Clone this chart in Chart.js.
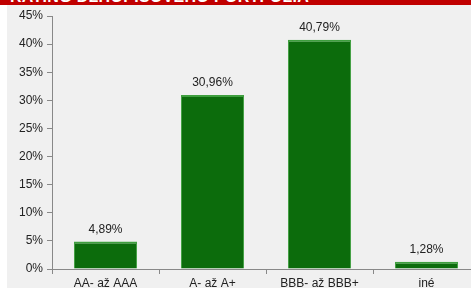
<!DOCTYPE html>
<html><head><meta charset="utf-8">
<script src="https://cdn.jsdelivr.net/npm/chart.js@4"></script>
<style>
html,body{margin:0;padding:0;background:#fff;overflow:hidden;width:471px;height:295px}
#panel{position:absolute;left:7px;top:0;width:464px;height:288px;background:#f0f0f0}
#band{position:absolute;left:0;top:0;width:471px;height:5px;background:#c00000;overflow:hidden}
#band span{position:absolute;left:10px;top:-12px;font:bold 16px "Liberation Sans",Arial,sans-serif;color:#fff;white-space:nowrap;letter-spacing:0.3px}
#wrap{position:absolute;left:0;top:0;width:490px;height:295px}
</style></head>
<body>
<div id="panel"></div>
<div id="wrap"><canvas id="c" width="490" height="295"></canvas></div>
<div id="band"><span>RATING DLHOPISOVÉHO PORTFÓLIA</span></div>
<script>
const categories = ["AA- až AAA", "A- až A+", "BBB- až BBB+", "iné"];
const values = [4.89, 30.96, 40.79, 1.28];
const valueLabels = ["4,89%", "30,96%", "40,79%", "1,28%"];

const labelPlugin = {
  id: 'vlabels',
  afterDatasetsDraw(chart) {
    const ctx = chart.ctx;
    const meta = chart.getDatasetMeta(0);
    ctx.save();
    ctx.font = '12px "Liberation Sans", Arial, sans-serif';
    ctx.fillStyle = '#222';
    ctx.textAlign = 'center';
    ctx.textBaseline = 'middle';
    meta.data.forEach((bar, i) => {
      ctx.fillText(valueLabels[i], bar.x, bar.y - 12);
    });
    ctx.restore();
  }
};

new Chart(document.getElementById('c'), {
  type: 'bar',
  data: {
    labels: categories,
    datasets: [{
      data: values,
      backgroundColor: '#0c6c0c',
      borderColor: '#3f9f3f',
      borderWidth: {top: 2, left: 1, right: 1, bottom: 0},
      borderSkipped: false,
      barPercentage: 0.59,
      categoryPercentage: 1.0
    }]
  },
  options: {
    responsive: false,
    animation: false,
    layout: {padding: {top: 16, right: 10, bottom: 0, left: 0}},
    plugins: {legend: {display: false}, tooltip: {enabled: false}},
    scales: {
      x: {
        grid: {display: true, drawOnChartArea: false, tickLength: 5, color: '#888', offset: true},
        border: {color: '#888'},
        ticks: {color: '#222', font: {size: 12, family: '"Liberation Sans", Arial, sans-serif'}, padding: 2},
        afterFit(s) { s.height = 26; }
      },
      y: {
        min: 0, max: 45,
        grid: {display: true, drawOnChartArea: false, tickLength: 5, color: '#888'},
        border: {color: '#888'},
        ticks: {stepSize: 5, color: '#222', padding: 4,
          font: {size: 12, family: '"Liberation Sans", Arial, sans-serif'},
          callback: v => v + '%'},
        afterFit(s) { s.width = 52; }
      }
    }
  },
  plugins: [labelPlugin]
});
</script>
</body></html>
